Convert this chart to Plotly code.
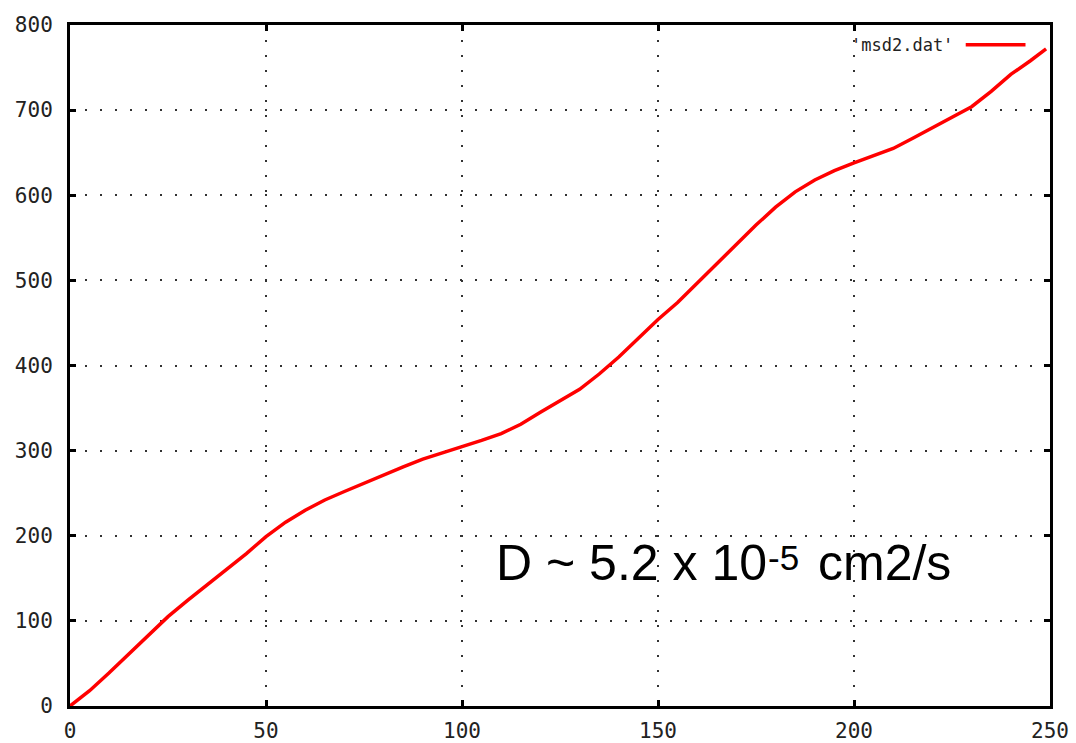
import plotly.graph_objects as go

# time steps
x_vals = [0, 5, 10, 15, 20, 25, 30, 35, 40, 45, 50, 55, 60, 65, 70, 75, 80, 85, 90, 95,
          100, 105, 110, 115, 120, 125, 130, 135, 140, 145, 150, 155, 160, 165, 170, 175,
          180, 185, 190, 195, 200, 205, 210, 215, 220, 225, 230, 235, 240, 245, 249]
# mean squared displacement
msd_vals = [0, 18, 39, 61, 83, 105, 124, 142, 160, 179, 199, 216, 230, 242, 252, 262,
            272, 281, 290, 297, 305, 312, 320, 331, 345, 358, 372, 390, 410, 432, 454,
            474, 497, 520, 543, 565, 586, 604, 618, 629, 638, 647, 655, 667, 679, 691,
            704, 722, 742, 758, 772]

x_ticks = [0, 50, 100, 150, 200, 250]
y_ticks = [0, 100, 200, 300, 400, 500, 600, 700, 800]
legend_label = "'msd2.dat'"
note_main = "D ~ 5.2 x 10"
note_exp = "-5"
note_unit = "cm2/s"

tick_font = dict(family="DejaVu Sans Mono", size=21, color="#222222")

fig = go.Figure()
fig.add_trace(go.Scatter(x=x_vals, y=msd_vals, mode="lines",
                         line=dict(color="#ff0000", width=3.5),
                         name=legend_label, showlegend=False))

axis_common = dict(showline=True, linewidth=3, linecolor="black", mirror="ticks",
                   ticks="inside", ticklen=6, tickwidth=3, tickcolor="black",
                   showgrid=True, gridcolor="#333333", gridwidth=2, griddash="2px,13px",
                   zeroline=False, tickfont=tick_font, automargin=False)

fig.update_xaxes(range=[0, 250], tickvals=x_ticks, ticklabelstandoff=4, **axis_common)
fig.update_yaxes(range=[0, 800], tickvals=y_ticks, ticklabelstandoff=10, **axis_common)

# gnuplot-style legend: label then line sample
fig.add_annotation(xref="paper", yref="paper", x=0.903, y=0.971, xanchor="right",
                   yanchor="middle", text=legend_label, showarrow=False,
                   font=dict(family="DejaVu Sans Mono", size=17, color="#222222"))
fig.add_shape(type="line", xref="paper", yref="paper", x0=0.914, x1=0.975,
              y0=0.971, y1=0.971, line=dict(color="#ff0000", width=3.5))

note_font = dict(family="Liberation Sans, Arial", size=50, color="black")
fig.add_annotation(x=108.1, y=168, xref="x", yref="y", xanchor="left", yanchor="middle",
                   text=note_main, showarrow=False, font=note_font)
fig.add_annotation(x=177.6, y=174.5, xref="x", yref="y", xanchor="left", yanchor="middle",
                   text=note_exp, showarrow=False,
                   font=dict(family="Liberation Sans, Arial", size=35, color="black"))
fig.add_annotation(x=190.4, y=168, xref="x", yref="y", xanchor="left", yanchor="middle",
                   text=note_unit, showarrow=False, font=note_font)

fig.update_layout(width=1076, height=743, margin=dict(l=70, r=26, t=25, b=37),
                  paper_bgcolor="white", plot_bgcolor="white")

fig.write_html("out.html")
